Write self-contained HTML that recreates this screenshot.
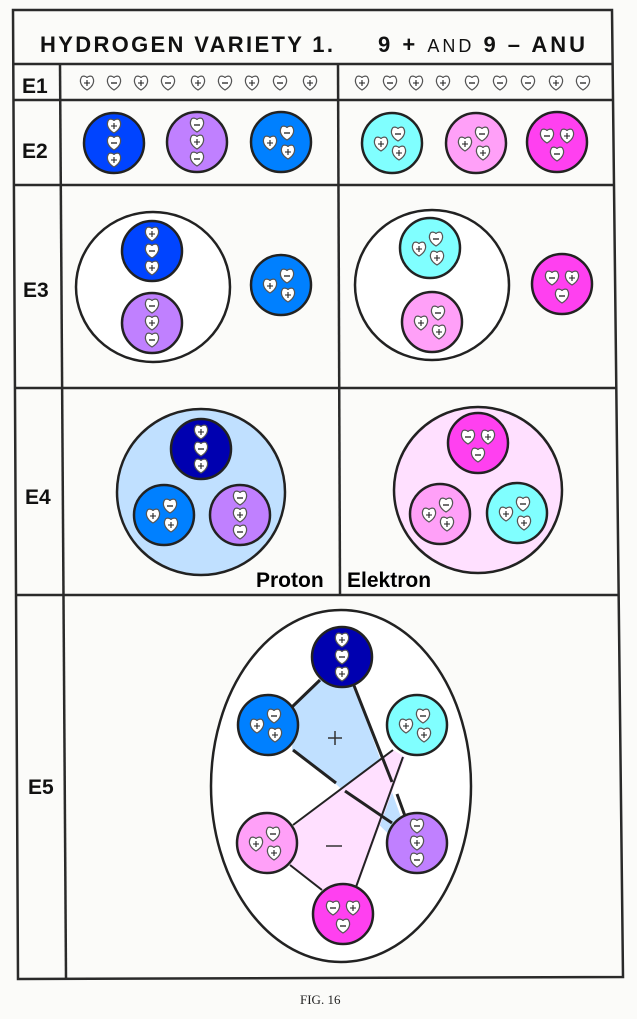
<!DOCTYPE html>
<html><head><meta charset="utf-8"><style>
html,body{margin:0;padding:0;background:#fbfbf9;}
svg{display:block}
.lbl{font-family:"Liberation Sans",sans-serif;font-weight:bold;font-size:21px;fill:#111}
</style></head><body>
<svg width="637" height="1019" viewBox="0 0 637 1019" xmlns="http://www.w3.org/2000/svg">
<defs>
<g id="hp"><path d="M0,7 C-7,3 -8,-3 -5,-6.5 C-2.5,-7.5 0,-6 0,-5 C0,-6 2.5,-7.5 5,-6.5 C8,-3 7,3 0,7Z" fill="#fff" stroke="#555" stroke-width="1.2"/><path d="M-3,0 H3 M0,-3 V3" stroke="#222" stroke-width="1.1"/></g>
<g id="hm"><path d="M0,7 C-7,3 -8,-3 -5,-6.5 C-2.5,-7.5 0,-6 0,-5 C0,-6 2.5,-7.5 5,-6.5 C8,-3 7,3 0,7Z" fill="#fff" stroke="#555" stroke-width="1.2"/><path d="M-3,0 H3" stroke="#222" stroke-width="1.3"/></g>
<g id="sA"><use href="#hp" y="-17"/><use href="#hm" y="0"/><use href="#hp" y="17"/></g>
<g id="sB"><use href="#hm" y="-17"/><use href="#hp" y="0"/><use href="#hm" y="17"/></g>
<g id="tri"><use href="#hp" x="-11" y="1"/><use href="#hm" x="6" y="-9"/><use href="#hp" x="7" y="10"/></g>
<g id="triM"><use href="#hm" x="-10" y="-6"/><use href="#hp" x="10" y="-6"/><use href="#hm" x="0" y="12"/></g>
<g id="cN"><circle r="30" fill="#0044ff" stroke="#222" stroke-width="2.5"/><use href="#sA"/></g>
<g id="cNN"><circle r="30" fill="#0000b0" stroke="#222" stroke-width="2.5"/><use href="#sA"/></g>
<g id="cP"><circle r="30" fill="#c080ff" stroke="#222" stroke-width="2.5"/><use href="#sB"/></g>
<g id="cB"><circle r="30" fill="#0080ff" stroke="#222" stroke-width="2.5"/><use href="#tri"/></g>
<g id="cC"><circle r="30" fill="#80ffff" stroke="#222" stroke-width="2.5"/><use href="#tri"/></g>
<g id="cK"><circle r="30" fill="#ffa0f8" stroke="#222" stroke-width="2.5"/><use href="#tri"/></g>
<g id="cM"><circle r="30" fill="#ff40f0" stroke="#222" stroke-width="2.5"/><use href="#triM"/></g>
</defs>

<g stroke="#2a2a2a" stroke-width="2.5" fill="none">
<path d="M13,10 L612,10 L623,977 L18,979 Z"/>
<line x1="13" y1="64" x2="613" y2="64"/>
<line x1="13" y1="100" x2="613" y2="100"/>
<line x1="14" y1="185" x2="614" y2="185"/>
<line x1="15" y1="388" x2="616" y2="388"/>
<line x1="16" y1="595" x2="619" y2="595"/>
<line x1="60" y1="64" x2="66" y2="978"/>
<line x1="338" y1="64" x2="340" y2="595"/>
</g>

<text x="40" y="52" font-family="Liberation Sans,sans-serif" font-weight="bold" font-size="22" fill="#111" textLength="293" lengthAdjust="spacing">HYDROGEN  VARIETY 1.</text>
<text x="378" y="52" font-family="Liberation Sans,sans-serif" font-weight="bold" font-size="22" fill="#111" textLength="207" lengthAdjust="spacing">9 + <tspan font-size="18" font-weight="normal">AND</tspan> 9 – ANU</text>

<text class="lbl" x="22" y="93">E1</text>
<text class="lbl" x="22" y="158">E2</text>
<text class="lbl" x="23" y="297">E3</text>
<text class="lbl" x="25" y="504">E4</text>
<text class="lbl" x="28" y="794">E5</text>

<use href="#hp" x="87" y="83"/><use href="#hm" x="114" y="83"/><use href="#hp" x="141" y="83"/><use href="#hm" x="168" y="83"/><use href="#hp" x="198" y="83"/><use href="#hm" x="225" y="83"/><use href="#hp" x="252" y="83"/><use href="#hm" x="280" y="83"/><use href="#hp" x="310" y="83"/>
<use href="#hp" x="362" y="83"/><use href="#hm" x="390" y="83"/><use href="#hp" x="416" y="83"/><use href="#hp" x="443" y="83"/><use href="#hm" x="472" y="83"/><use href="#hm" x="500" y="83"/><use href="#hm" x="528" y="83"/><use href="#hp" x="556" y="83"/><use href="#hm" x="583" y="83"/>

<use href="#cN" x="114" y="143"/><use href="#cP" x="197" y="142"/><use href="#cB" x="281" y="142"/>
<use href="#cC" x="392" y="143"/><use href="#cK" x="476" y="143"/><use href="#cM" x="557" y="142"/>

<ellipse cx="153" cy="287" rx="77" ry="75" fill="#fff" stroke="#222" stroke-width="2.5"/>
<use href="#cN" x="152" y="251"/><use href="#cP" x="152" y="323"/><use href="#cB" x="281" y="285"/>
<ellipse cx="432" cy="285" rx="77" ry="75" fill="#fff" stroke="#222" stroke-width="2.5"/>
<use href="#cC" x="430" y="248"/><use href="#cK" x="432" y="322"/><use href="#cM" x="562" y="284"/>

<ellipse cx="201" cy="492" rx="84" ry="83" fill="#c0e0ff" stroke="#222" stroke-width="2.5"/>
<use href="#cNN" x="201" y="449"/><use href="#cB" x="164" y="515"/><use href="#cP" x="240" y="515"/>
<ellipse cx="478" cy="490" rx="84" ry="83" fill="#ffe0ff" stroke="#222" stroke-width="2.5"/>
<use href="#cM" x="478" y="443"/><use href="#cK" x="440" y="514"/><use href="#cC" x="517" y="513"/>
<text x="256" y="587" font-family="Liberation Sans,sans-serif" font-weight="bold" font-size="21" fill="#000">Proton</text>
<text x="347" y="587" font-family="Liberation Sans,sans-serif" font-weight="bold" font-size="21" fill="#000">Elektron</text>

<ellipse cx="341" cy="786" rx="130" ry="176" fill="#fff" stroke="#222" stroke-width="2.5"/>
<polygon points="320,680 353,683 402,820 395,840 337,785 292,750 294,707" fill="#c0e0ff"/>
<polygon points="393,750 405,757 357,888 322,890 290,866 294,826 340,790" fill="#ffe0ff"/>
<g stroke="#222" stroke-width="3" fill="none">
<line x1="292" y1="707" x2="320" y2="680"/>
<line x1="353" y1="683" x2="392" y2="782"/>
<line x1="397" y1="794" x2="405" y2="816"/>
<line x1="293" y1="750" x2="336" y2="783"/>
<line x1="345" y1="791" x2="392" y2="823"/>
</g>
<g stroke="#222" stroke-width="2" fill="none">
<line x1="393" y1="750" x2="293" y2="825"/>
<line x1="403" y1="757" x2="356" y2="887"/>
<line x1="290" y1="865" x2="322" y2="890"/>
</g>
<use href="#cNN" x="342" y="657"/><use href="#cB" x="268" y="725"/><use href="#cC" x="417" y="725"/>
<use href="#cK" x="267" y="843"/><use href="#cP" x="417" y="843"/><use href="#cM" x="343" y="914"/>
<path d="M328,738 H342 M335,731 V745" stroke="#333" stroke-width="1.5"/>
<path d="M326,846 H342" stroke="#333" stroke-width="1.5"/>

<text x="300" y="1004" font-family="Liberation Serif,serif" font-size="13" fill="#222">FIG.   16</text>
</svg>
</body></html>
